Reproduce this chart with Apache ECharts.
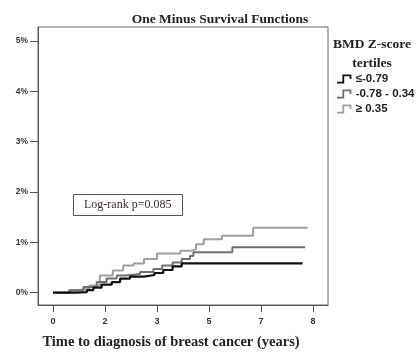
<!DOCTYPE html>
<html>
<head>
<meta charset="utf-8">
<script src="https://cdn.jsdelivr.net/npm/echarts@6/dist/echarts.min.js"></script>
<style>html,body{margin:0;padding:0;background:#fff}#c{width:420px;height:355px}</style>
</head>
<body>
<div id="c"></div>
<script>
// Time in months; x tick labels show rounded years
var xTickMonths = [0, 20, 40, 60, 80, 100];
var xTickLabels = ['0', '2', '3', '5', '7', '8'];
var yTicks = [0, 1, 2, 3, 4, 5];
var yTickLabels = ['0%', '1%', '2%', '3%', '4%', '5%'];

var seriesNames = ['\u2264-0.79', '-0.78 - 0.34', '\u2265 0.35'];

var lowTimes = [0, 8.5, 13, 15.5, 18.7, 22.6, 25.8, 29.6, 35, 39, 42.4, 46, 49.5, 96];
var lowValues = [0, 0.01, 0.05, 0.10, 0.16, 0.21, 0.28, 0.32, 0.35, 0.39, 0.45, 0.52, 0.58, 0.58];

var midTimes = [0, 6.5, 11.7, 16.8, 20.6, 24.5, 28, 33.5, 38.6, 42, 46, 49.5, 52.7, 54, 69, 97];
var midValues = [0, 0.05, 0.11, 0.21, 0.28, 0.34, 0.37, 0.41, 0.47, 0.54, 0.60, 0.67, 0.73, 0.80, 0.90, 0.90];

var highTimes = [0, 6, 9, 14, 18, 23, 27, 31, 35, 40, 49, 53, 55, 58, 65, 77, 98];
var highValues = [0, 0.05, 0.08, 0.14, 0.34, 0.44, 0.54, 0.58, 0.67, 0.78, 0.83, 0.86, 0.96, 1.06, 1.13, 1.29, 1.29];

function pairs(t, v) { return t.map(function (x, i) { return [x, v[i]]; }); }

var stepIcon = 'path://M0,8 L6,8 L6,0 L16,0 L16,5 L14,5 L14,2 L8,2 L8,10 L0,10 Z';
var colors = ['#111111', '#707070', '#a0a0a0'];

var chart = echarts.init(document.getElementById('c'));
chart.setOption({
  animation: false,
  backgroundColor: '#fff',
  title: [
    { text: 'One Minus Survival Functions', left: 215, top: 8, textAlign: 'center',
      textStyle: { fontFamily: 'Liberation Serif', fontWeight: 'bold', fontSize: 13.5, color: '#222' } },
    { text: 'BMD Z-score\ntertiles', left: 367, top: 30, textAlign: 'center',
      textStyle: { fontFamily: 'Liberation Serif', fontWeight: 'bold', fontSize: 13.5, lineHeight: 19, color: '#222', align: 'center' } },
    { text: 'Log-rank p=0.085', left: 73, top: 194, padding: [5, 11, 5, 11],
      borderColor: '#555', borderWidth: 1, backgroundColor: '#fff',
      textStyle: { fontFamily: 'Liberation Serif', fontWeight: 'normal', fontSize: 12, color: '#3a2c2c' } }
  ],
  legend: {
    orient: 'vertical', left: 332, top: 68, itemWidth: 17, itemHeight: 9, itemGap: 3,
    data: seriesNames.map(function (n) { return { name: n, icon: stepIcon }; }),
    textStyle: { fontFamily: 'Liberation Sans', fontWeight: 'bold', fontSize: 11.5, color: '#222', padding: [0, 0, 0, -2] }
  },
  grid: { left: 38, top: 27, right: 92, bottom: 47, show: true, borderColor: '#666', borderWidth: 1 },
  xAxis: {
    type: 'value', min: -5.8, max: 105.8,
    name: 'Time to diagnosis of breast cancer (years)', nameLocation: 'middle', nameGap: 30,
    nameTextStyle: { fontFamily: 'Liberation Serif', fontWeight: 'bold', fontSize: 14.5, color: '#222', padding: [0, 24, 0, 0] },
    axisLine: { show: true, onZero: false, lineStyle: { color: '#555' } },
    axisTick: { show: true, length: 7, customValues: xTickMonths, lineStyle: { color: '#555' } },
    axisLabel: { customValues: xTickMonths, margin: 12, fontFamily: 'Liberation Sans', fontWeight: 'bold', fontSize: 9, color: '#333',
      formatter: function (v) { var i = xTickMonths.indexOf(v); return i >= 0 ? xTickLabels[i] : ''; } },
    splitLine: { show: false }
  },
  yAxis: {
    type: 'value', min: -0.245, max: 5.275,
    axisLine: { show: true, onZero: false, lineStyle: { color: '#555' } },
    axisTick: { show: true, length: 8, customValues: yTicks, lineStyle: { color: '#555' } },
    axisLabel: { customValues: yTicks, margin: 10, fontFamily: 'Liberation Sans', fontWeight: 'bold', fontSize: 8.5, color: '#333',
      formatter: function (v) { var i = yTicks.indexOf(v); return i >= 0 ? yTickLabels[i] : ''; } },
    splitLine: { show: false }
  },
  series: [
    { name: seriesNames[0], type: 'line', step: 'end', showSymbol: false, data: pairs(lowTimes, lowValues),
      lineStyle: { color: colors[0], width: 2.2 }, itemStyle: { color: colors[0] }, z: 5 },
    { name: seriesNames[1], type: 'line', step: 'end', showSymbol: false, data: pairs(midTimes, midValues),
      lineStyle: { color: colors[1], width: 2 }, itemStyle: { color: colors[1] }, z: 4 },
    { name: seriesNames[2], type: 'line', step: 'end', showSymbol: false, data: pairs(highTimes, highValues),
      lineStyle: { color: colors[2], width: 2 }, itemStyle: { color: colors[2] }, z: 3 }
  ]
});
</script>
</body>
</html>
